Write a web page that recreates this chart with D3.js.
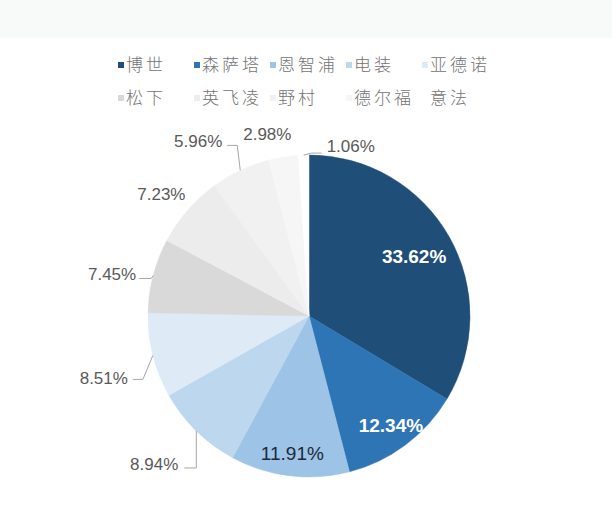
<!DOCTYPE html>
<html>
<head>
<meta charset="utf-8">
<script src="https://cdn.jsdelivr.net/npm/d3@7"></script>
<style>
  body { margin: 0; background: #fff; }
  svg { display: block; }
</style>
</head>
<body>
<div id="chart"></div>
<script>
// market share data
const companies = ['博世', '森萨塔', '恩智浦', '电装', '亚德诺', '松下', '英飞凌', '野村', '德尔福', '意法']
const shares = [33.62, 12.34, 11.91, 8.94, 8.51, 7.45, 7.23, 5.96, 2.98, 1.06]
const shareLabels = ['33.62%', '12.34%', '11.91%', '8.94%', '8.51%', '7.45%', '7.23%', '5.96%', '2.98%', '1.06%']

const width = 612
const height = 514
const cx = 309
const cy = 316
const radius = 161

const colors = ['#1f4e79', '#2e75b6', '#9dc3e6', '#bdd7ee', '#deebf7',
                '#d9d9d9', '#ececec', '#f1f1f1', '#f6f6f6', '#ffffff']
const color = d3.scaleOrdinal().domain(companies).range(colors)

const svg = d3.select('#chart')
  .append('svg')
    .attr('width', width)
    .attr('height', height)

// faint band at the top of the screenshot
svg.append('rect')
  .attr('width', width)
  .attr('height', 38)
  .attr('fill', '#f8fafa')

// legend
const legendX = d3.scaleLinear().domain([0, 1]).range([118, 194])
const legendY = d3.scaleLinear().domain([0, 1]).range([65, 98])

const legend = svg.append('g')
  .selectAll('g')
  .data(companies)
  .enter()
  .append('g')
    .attr('transform', (d, i) => `translate(${legendX(i % 5)}, ${legendY(Math.floor(i / 5))})`)

legend.append('rect')
  .attr('x', 0)
  .attr('y', -3)
  .attr('width', 6)
  .attr('height', 6)
  .attr('fill', d => color(d))

legend.append('text')
  .attr('x', 8)
  .attr('dy', '0.36em')
  .attr('font-family', '"Noto Sans CJK SC", sans-serif')
  .attr('font-size', 17)
  .attr('font-weight', 300)
  .attr('letter-spacing', 3)
  .attr('fill', '#737373')
  .text(d => d)

// pie
const pie = d3.pie().sort(null).value(d => d.value)
const arc = d3.arc().innerRadius(0).outerRadius(radius)

const data = companies.map((c, i) => ({ name: c, value: shares[i], label: shareLabels[i] }))
const arcs = pie(data)

const g = svg.append('g')
  .attr('transform', `translate(${cx}, ${cy})`)

g.selectAll('path.slice')
  .data(arcs)
  .enter()
  .append('path')
    .attr('class', 'slice')
    .attr('d', arc)
    .attr('fill', d => color(d.data.name))
    .attr('stroke', d => color(d.data.name))
    .attr('stroke-width', 0.5)

// point on the rim at mid angle
const rim = (d, r) => {
  const a = (d.startAngle + d.endAngle) / 2
  return [r * Math.sin(a), -r * Math.cos(a)]
}

// inside labels: radius factor, fill, weight
const inside = {
  '博世': { k: 0.75, fill: '#fff', weight: 'bold' },
  '森萨塔': { k: 0.85, fill: '#fff', weight: 'bold' },
  '恩智浦': { k: 0.86, fill: '#1b2a3a', weight: 'normal' }
}

g.selectAll('text.inside')
  .data(arcs.filter(d => inside[d.data.name]))
  .enter()
  .append('text')
    .attr('class', 'inside')
    .attr('transform', d => {
      const p = rim(d, radius * inside[d.data.name].k)
      return `translate(${p[0]}, ${p[1]})`
    })
    .attr('text-anchor', 'middle')
    .attr('dy', '0.36em')
    .attr('font-family', '"Liberation Sans", Arial, sans-serif')
    .attr('font-size', 19)
    .attr('font-weight', d => inside[d.data.name].weight)
    .attr('fill', d => inside[d.data.name].fill)
    .text(d => d.data.label)

// outside labels: leader elbows and text offset relative to the rim point
const outside = {
  '电装': { line: [[0, 37], [-12, 37]], text: [-18, 33], anchor: 'end' },
  '亚德诺': { line: [[-10, 24], [-20, 24]], text: [-25, 22], anchor: 'end' },
  '松下': { line: [[-2, 3], [-14, 3]], text: [-17, -2], anchor: 'end' },
  '英飞凌': { line: null, text: [-2, -17], anchor: 'end' },
  '野村': { line: [[-3, -25], [-13, -25]], text: [-18, -30], anchor: 'end' },
  '德尔福': { line: null, text: [-16, -23], anchor: 'middle' },
  '意法': { line: [[8, -2], [18, -2]], text: [23, -9], anchor: 'start' }
}

const outArcs = arcs.filter(d => outside[d.data.name])

g.selectAll('path.leader')
  .data(outArcs.filter(d => outside[d.data.name].line))
  .enter()
  .append('path')
    .attr('class', 'leader')
    .attr('d', d => {
      const p = rim(d, radius)
      const pts = [p].concat(outside[d.data.name].line.map(o => [p[0] + o[0], p[1] + o[1]]))
      return d3.line()(pts)
    })
    .attr('fill', 'none')
    .attr('stroke', '#a6a6a6')
    .attr('stroke-width', 1)

g.selectAll('text.outside')
  .data(outArcs)
  .enter()
  .append('text')
    .attr('class', 'outside')
    .attr('transform', d => {
      const p = rim(d, radius)
      const o = outside[d.data.name].text
      return `translate(${p[0] + o[0]}, ${p[1] + o[1]})`
    })
    .attr('text-anchor', d => outside[d.data.name].anchor)
    .attr('dy', '0.36em')
    .attr('font-family', '"Liberation Sans", Arial, sans-serif')
    .attr('font-size', 17)
    .attr('fill', '#595959')
    .text(d => d.data.label)
</script>
</body>
</html>
